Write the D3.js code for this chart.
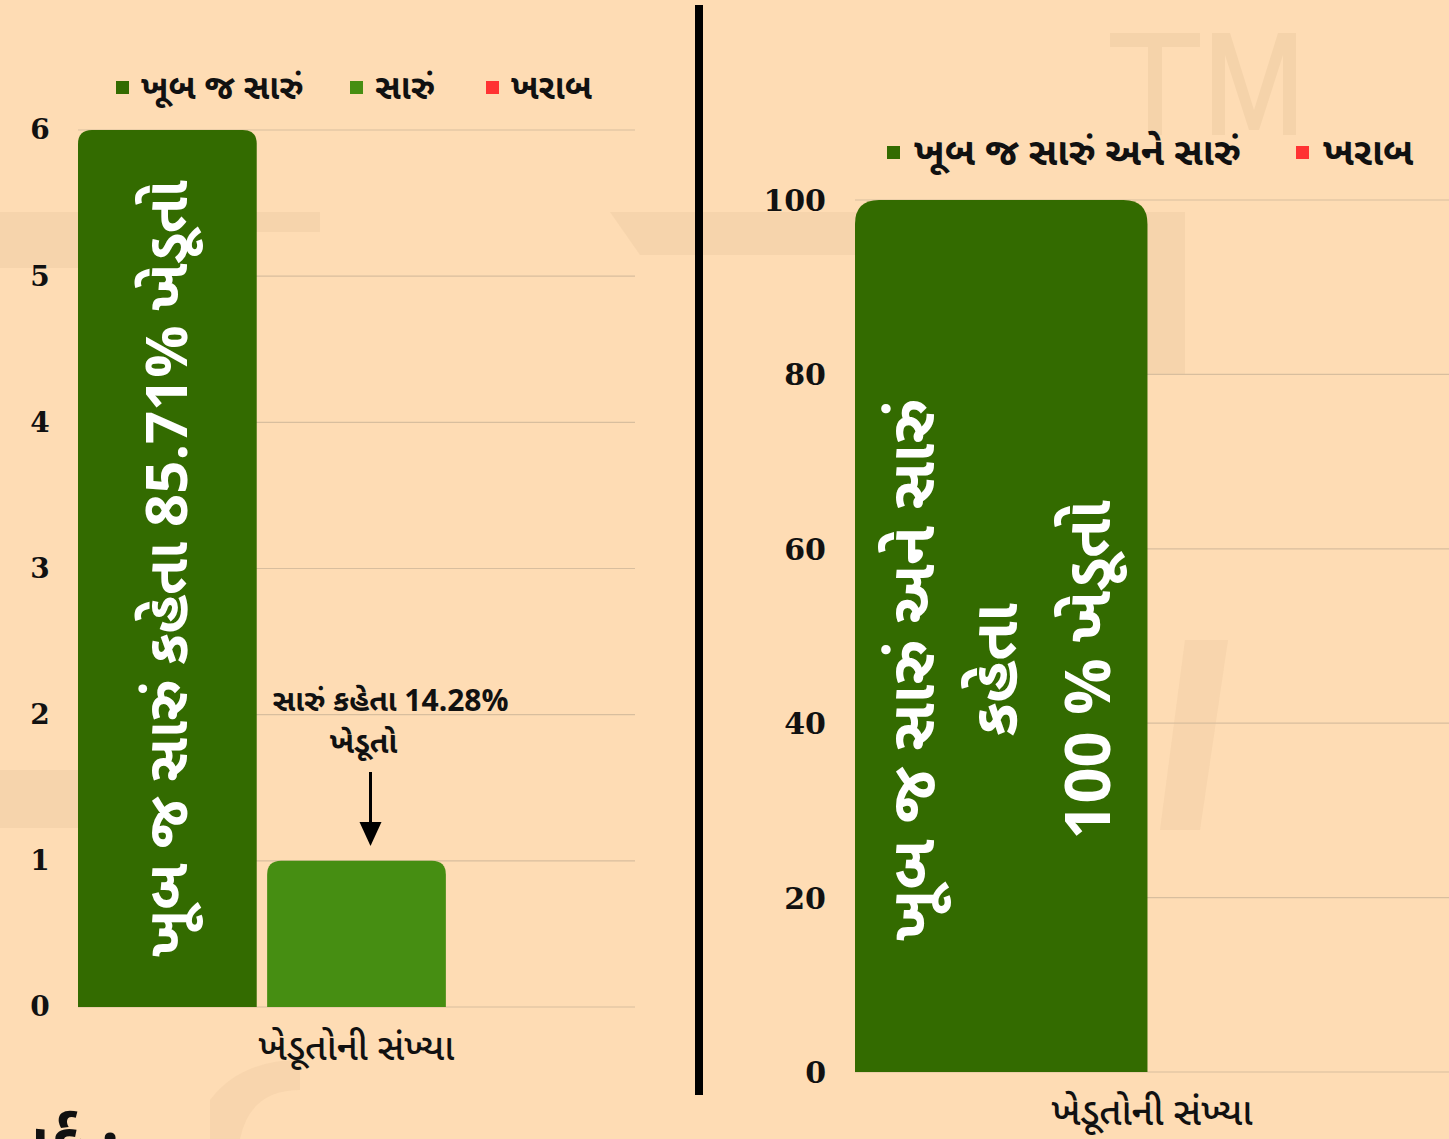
<!DOCTYPE html>
<html><head><meta charset="utf-8">
<script src="https://cdn.jsdelivr.net/npm/d3@7"></script>
<style>
html,body{margin:0;padding:0;background:#FEDCB4;}
svg{display:block;}
</style></head>
<body>
<svg id="c" width="1449" height="1139"></svg>
<script>
// ---- data ----
const leftCategories = ["ખેડૂતોની સંખ્યા"];
const leftSeries = ["ખૂબ જ સારું", "સારું", "ખરાબ"];
const leftValues = [6, 1, 0];
const leftTicks = [0, 1, 2, 3, 4, 5, 6];
const leftColors = ["#336B00", "#468E12", "#FF3333"];

const rightCategories = ["ખેડૂતોની સંખ્યા"];
const rightSeries = ["ખૂબ જ સારું અને સારું", "ખરાબ"];
const rightValues = [100, 0];
const rightTicks = [0, 20, 40, 60, 80, 100];
const rightColors = ["#336B00", "#FF3333"];

const leftBarLabel = "ખૂબ જ સારું કહેતા 85.71% ખેડૂતો";
const leftAnnotation = ["સારું કહેતા 14.28%", "ખેડૂતો"];
const rightBarLabel = ["ખૂબ જ સારું અને સારું", "કહેતા", "100 % ખેડૂતો"];

const svg = d3.select("#c");
const guj = "'Noto Sans Gujarati','Lohit Gujarati','Noto Sans',sans-serif";
const numFont = "'DejaVu Serif','Liberation Serif',serif";

// background
svg.append("rect").attr("width",1449).attr("height",1139).attr("fill","#FEDCB4");
// watermark (faint shapes, drawn as paths)
const wm = svg.append("g").attr("fill","#F3D1A9");
wm.append("path").attr("d","M1110,33 L1200,33 L1200,47 L1162,47 L1162,135 L1148,135 L1148,47 L1110,47 Z M1212,135 L1212,33 L1230,33 L1254,110 L1278,33 L1296,33 L1296,135 L1283,135 L1283,55 L1259,130 L1249,130 L1225,55 L1225,135 Z").attr("fill","#F5D3AA");
wm.append("path").attr("d","M0,212 L320,212 L320,232 L240,232 Q222,232 222,290 L222,770 Q222,828 160,828 L0,828 L0,770 L150,770 Q182,770 182,720 L182,300 Q182,268 150,268 L0,268 Z").attr("opacity",0.75);
wm.append("path").attr("d","M610,212 L1185,212 L1185,375 L1145,375 L1145,300 Q1100,255 1000,255 L640,255 Z").attr("opacity",0.75);
wm.append("path").attr("d","M1185,640 L1228,640 L1200,830 L1160,830 Z").attr("opacity",0.6);
wm.append("path").attr("d","M210,1139 L210,1100 Q240,1060 300,1060 L300,1090 Q250,1090 240,1139 Z").attr("opacity",0.6);

function topRounded(x, y, w, h, r){
  r = Math.min(r, h, w/2);
  if (h <= 0) return "";
  return `M${x},${y+h} L${x},${y+r} Q${x},${y} ${x+r},${y} L${x+w-r},${y} Q${x+w},${y} ${x+w},${y+r} L${x+w},${y+h} Z`;
}

// ---------- LEFT CHART ----------
{
  const x0 = d3.scaleBand().domain(leftCategories).range([78, 635]).padding(0);
  const x1 = d3.scaleBand().domain(leftSeries).range([0, x0.bandwidth()]).paddingInner(0.055);
  const y = d3.scaleLinear().domain([0, 6]).range([1007, 130]);
  const g = svg.append("g");
  g.selectAll("line.grid").data(leftTicks).join("line")
    .attr("x1",78).attr("x2",635).attr("y1",d=>y(d)).attr("y2",d=>y(d))
    .attr("stroke","#D8BE9E").attr("stroke-width",1.2);
  const ax = g.append("g").attr("transform","translate(52,0)")
    .call(d3.axisLeft(y).tickValues(leftTicks).tickSize(0).tickPadding(0).tickFormat(d3.format("d")));
  ax.select(".domain").remove();
  ax.selectAll("text").attr("font-family",numFont).attr("font-weight","900").attr("font-size",28)
    .attr("fill","#111").attr("text-anchor","middle").attr("x",-12);
  const cat = leftCategories[0];
  g.selectAll("path.bar").data(leftSeries).join("path")
    .attr("d",(s,i)=>topRounded(x0(cat)+x1(s), y(leftValues[i]), x1.bandwidth(), y(0)-y(leftValues[i]), 14))
    .attr("fill",(s,i)=>leftColors[i]);
  const bx = x0(cat)+x1(leftSeries[0])+x1.bandwidth()/2;
  const by = (y(leftValues[0])+y(0))/2;
  g.append("text").attr("transform",`translate(${bx+20},${by}) rotate(-90)`)
    .attr("text-anchor","middle").attr("font-family",guj).attr("font-weight","bold")
    .attr("font-size",58).attr("fill","#fff").text(leftBarLabel);
  const ax2 = x0(cat)+x1(leftSeries[1])+x1.bandwidth()/2;
  g.append("text").attr("x",ax2+34).attr("y",711).attr("text-anchor","middle")
    .attr("font-family",guj).attr("font-weight","bold").attr("font-size",30).attr("fill","#111").text(leftAnnotation[0]);
  g.append("text").attr("x",ax2+7).attr("y",753).attr("text-anchor","middle")
    .attr("font-family",guj).attr("font-weight","bold").attr("font-size",30).attr("fill","#111").text(leftAnnotation[1]);
  const arX = ax2+14;
  g.append("line").attr("x1",arX).attr("x2",arX).attr("y1",772).attr("y2",828).attr("stroke","#000").attr("stroke-width",3);
  g.append("path").attr("d",`M${arX-11},${822} L${arX+11},${822} L${arX},${846} Z`).attr("fill","#000");
  g.append("text").attr("x",x0(cat)+x0.bandwidth()/2).attr("y",1060).attr("text-anchor","middle")
    .attr("font-family",guj).attr("font-size",37).attr("font-weight","500").attr("fill","#111").text(cat);
  const legX = [116, 350, 486];
  const lg = g.append("g");
  leftSeries.forEach((s,i)=>{
    lg.append("rect").attr("x",legX[i]).attr("y",81).attr("width",13).attr("height",13).attr("fill",leftColors[i]);
    lg.append("text").attr("x",legX[i]+25).attr("y",99).attr("font-family",guj).attr("font-weight","bold")
      .attr("font-size",34).attr("fill","#111").text(s);
  });
}

// divider
svg.append("rect").attr("x",695).attr("y",5).attr("width",8).attr("height",1090).attr("fill","#000");

// ---------- RIGHT CHART ----------
{
  const x0 = d3.scaleBand().domain(rightCategories).range([855, 1449]).padding(0);
  const x1 = d3.scaleBand().domain(rightSeries).range([0, x0.bandwidth()]).paddingInner(0.03);
  const y = d3.scaleLinear().domain([0, 100]).range([1072, 200]);
  const g = svg.append("g");
  g.selectAll("line.grid").data(rightTicks).join("line")
    .attr("x1",855).attr("x2",1449).attr("y1",d=>y(d)).attr("y2",d=>y(d))
    .attr("stroke","#D8BE9E").attr("stroke-width",1.2);
  const ax = g.append("g").attr("transform","translate(826,0)")
    .call(d3.axisLeft(y).tickValues(rightTicks).tickSize(0).tickPadding(0).tickFormat(d3.format("d")));
  ax.select(".domain").remove();
  ax.selectAll("text").attr("font-family",numFont).attr("font-weight","900").attr("font-size",30)
    .attr("fill","#111").attr("text-anchor","end").attr("dy","0.35em");
  const cat = rightCategories[0];
  g.selectAll("path.bar").data(rightSeries).join("path")
    .attr("d",(s,i)=>topRounded(x0(cat)+x1(s), y(rightValues[i]), x1.bandwidth(), y(0)-y(rightValues[i]), 24))
    .attr("fill",(s,i)=>rightColors[i]);
  const lx = [912, 995, 1088];
  const cy = 670;
  rightBarLabel.forEach((t,i)=>{
    g.append("text").attr("transform",`translate(${lx[i]+22},${cy}) rotate(-90)`)
      .attr("text-anchor","middle").attr("font-family",guj).attr("font-weight","bold")
      .attr("font-size",63).attr("fill","#fff").text(t);
  });
  g.append("text").attr("x",x0(cat)+x0.bandwidth()/2).attr("y",1125).attr("text-anchor","middle")
    .attr("font-family",guj).attr("font-size",38).attr("font-weight","500").attr("fill","#111").text(cat);
  const legX = [887, 1296];
  rightSeries.forEach((s,i)=>{
    g.append("rect").attr("x",legX[i]).attr("y",146).attr("width",13).attr("height",13).attr("fill",rightColors[i]);
    g.append("text").attr("x",legX[i]+27).attr("y",165).attr("font-family",guj).attr("font-weight","bold")
      .attr("font-size",38).attr("fill","#111").text(s);
  });
}

// cut-off heading at bottom left
svg.append("text").attr("x",10).attr("y",1168).attr("font-family",guj).attr("font-weight","bold")
  .attr("font-size",64).attr("fill","#111").text("તર્ક :");
</script>
</body></html>
